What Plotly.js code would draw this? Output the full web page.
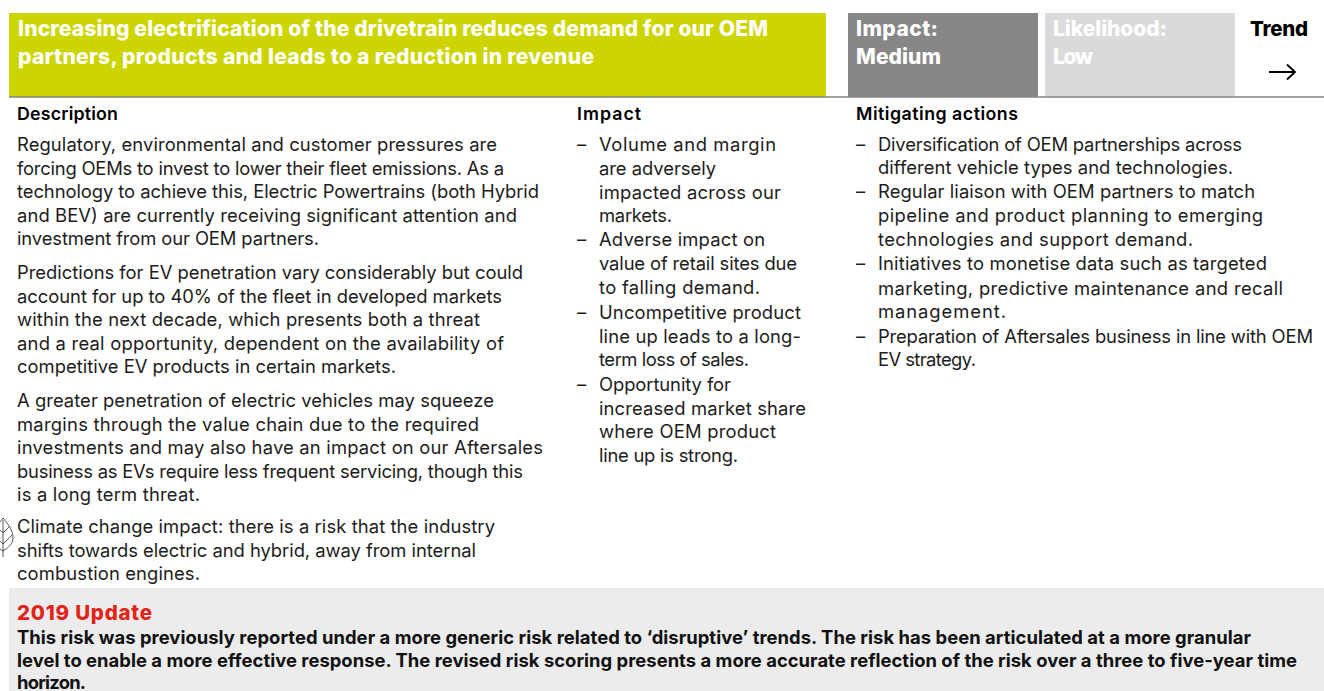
<!DOCTYPE html>
<html><head><meta charset="utf-8"><script src="https://cdn.plot.ly/plotly-3.0.1.min.js"></script>
<style>html,body{margin:0;padding:0;background:#fff}#c{width:1324px;height:691px}</style></head>
<body><div id="c"></div><script>
const FONT='Inter, sans-serif';
const titleLines=['Increasing electrification of the drivetrain reduces demand for our OEM','partners, products and leads to a reduction in revenue'];
const impactBadge=['Impact:','Medium'];
const likelihoodBadge=['Likelihood:','Low'];
const trendLabel='Trend';
const headers=['Description','Impact','Mitigating actions'];
const descLines=[
'Regulatory, environmental and customer pressures are',
'forcing OEMs to invest to lower their fleet emissions. As a',
'technology to achieve this, Electric Powertrains (both Hybrid',
'and BEV) are currently receiving significant attention and',
'investment from our OEM partners.',
'Predictions for EV penetration vary considerably but could',
'account for up to 40% of the fleet in developed markets',
'within the next decade, which presents both a threat',
'and a real opportunity, dependent on the availability of',
'competitive EV products in certain markets.',
'A greater penetration of electric vehicles may squeeze',
'margins through the value chain due to the required',
'investments and may also have an impact on our Aftersales',
'business as EVs require less frequent servicing, though this',
'is a long term threat.',
'Climate change impact: there is a risk that the industry',
'shifts towards electric and hybrid, away from internal',
'combustion engines.'];
const descY=[144,167.5,191,214.5,238,272,295.5,319,342.5,366,400,423.5,447,470.5,494,526,550,573];
const descEnd=[497,504,539,517,319,523,502,480,504,396,494,479,543,523,200,495,476,200];
const impactLines=[
['–','Volume and margin'],['','are adversely'],['','impacted across our'],['','markets.'],
['–','Adverse impact on'],['','value of retail sites due'],['','to falling demand.'],
['–','Uncompetitive product'],['','line up leads to a long-'],['','term loss of sales.'],
['–','Opportunity for'],['','increased market share'],['','where OEM product'],['','line up is strong.']];
const impactY=[144,168,192,215,239,263,287,312,336,359,384,408,431,455];
const impactEnd=[776,716,781,672,765,797,760,801,801,749,731,806,776,738];
const mitigLines=[
['–','Diversification of OEM partnerships across'],['','different vehicle types and technologies.'],
['–','Regular liaison with OEM partners to match'],['','pipeline and product planning to emerging'],['','technologies and support demand.'],
['–','Initiatives to monetise data such as targeted'],['','marketing, predictive maintenance and recall'],['','management.'],
['–','Preparation of Aftersales business in line with OEM'],['','EV strategy.']];
const mitigY=[144,167,191,215,239,263,288,311,336,359];
const mitigEnd=[1242,1233,1255,1263,1193,1267,1283,1006,1313,976];
const updateHead='2019 Update';
const updateLines=[
'This risk was previously reported under a more generic risk related to ‘disruptive’ trends. The risk has been articulated at a more granular',
'level to enable a more effective response. The revised risk scoring presents a more accurate reflection of the risk over a three to five-year time',
'horizon.'];
const updateY=[636.5,660,682];
const updateEnd=[1251,1297,86];

const ann=[],fit=[];
function t(x,y,text,size,color,weight,end){ann.push({xref:'x',yref:'y',x:x,y:y,text:text,showarrow:false,xanchor:'left',yanchor:'middle',align:'left',borderpad:0,borderwidth:0,font:{family:FONT,size:size,color:color,weight:weight||400}});fit.push(end?end-x:0);}
const BODY=18.4,INK='#1d1d1b';
t(18,28,titleLines[0],21,'#fff',800,768);t(18,56,titleLines[1],21,'#fff',800,594);
t(856,28,impactBadge[0],21,'#fff',800,938);t(856,56,impactBadge[1],21,'#fff',800,941);
t(1053,28,likelihoodBadge[0],21,'#fff',800,1167);t(1053,56,likelihoodBadge[1],21,'#fff',800,1093);
t(1250,28,trendLabel,20.5,'#000',800,1308);
t(17,113,headers[0],17.8,'#000',600,118);t(577,113,headers[1],17.8,'#000',600,641);t(856,113,headers[2],17.8,'#000',600,1018);
descLines.forEach((l,i)=>t(17,descY[i],l,BODY,INK,400,descEnd[i]));
impactLines.forEach((l,i)=>{if(l[0])t(577,impactY[i],l[0],BODY,INK);t(599,impactY[i],l[1],BODY,INK,400,impactEnd[i]);});
mitigLines.forEach((l,i)=>{if(l[0])t(856,mitigY[i],l[0],BODY,INK);t(878,mitigY[i],l[1],BODY,INK,400,mitigEnd[i]);});
t(17,612,updateHead,20.5,'#e2231a',800,152);
updateLines.forEach((l,i)=>t(17,updateY[i],l,18.4,'#111',700,updateEnd[i]));

const rect=(x0,x1,y0,y1,c)=>({type:'rect',xref:'x',yref:'y',x0,x1,y0,y1,fillcolor:c,line:{width:0},layer:'below'});
const shapes=[rect(9,826,13,96.5,'#ccd500'),rect(848,1038,13,96.5,'#878787'),rect(1045,1235,13,96.5,'#dadada'),rect(9,1324,588,691,'#ececec'),
{type:'line',xref:'x',yref:'y',x0:9,x1:1324,y0:97,y1:97,line:{color:'#4a4a40',width:1.2}},
{type:'path',xref:'x',yref:'y',path:'M1269,72 L1295,72 M1287,64.5 L1295,72 L1287,79.5',line:{color:'#000',width:1.8}},
{type:'path',xref:'x',yref:'y',path:'M3,518 C8,524 13,530 13,538 C13,544 8,548 3,551 C-2,548 -6,544 -6,538 C-6,530 -2,524 3,518 Z M3,520 L3,557 M3,533 L10,526 M3,544 L12,535 M3,533 L0,530 M3,544 L0,541',line:{color:'#444',width:0.9}}];
Plotly.newPlot('c',[],{width:1324,height:691,margin:{l:0,r:0,t:0,b:0},paper_bgcolor:'#fff',plot_bgcolor:'#fff',showlegend:false,
xaxis:{range:[0,1324],visible:false,fixedrange:true},yaxis:{range:[691,0],visible:false,fixedrange:true},annotations:ann,shapes:shapes},{displayModeBar:false,staticPlot:true}).then(gd=>{
  gd.querySelectorAll('.annotation').forEach(g=>{
    const i=+g.getAttribute('data-index'),w=fit[i];if(!w)return;
    const n=g.querySelector('text.annotation-text');if(n){n.setAttribute('textLength',w);n.setAttribute('lengthAdjust','spacing');}
  });
});
</script></body></html>
